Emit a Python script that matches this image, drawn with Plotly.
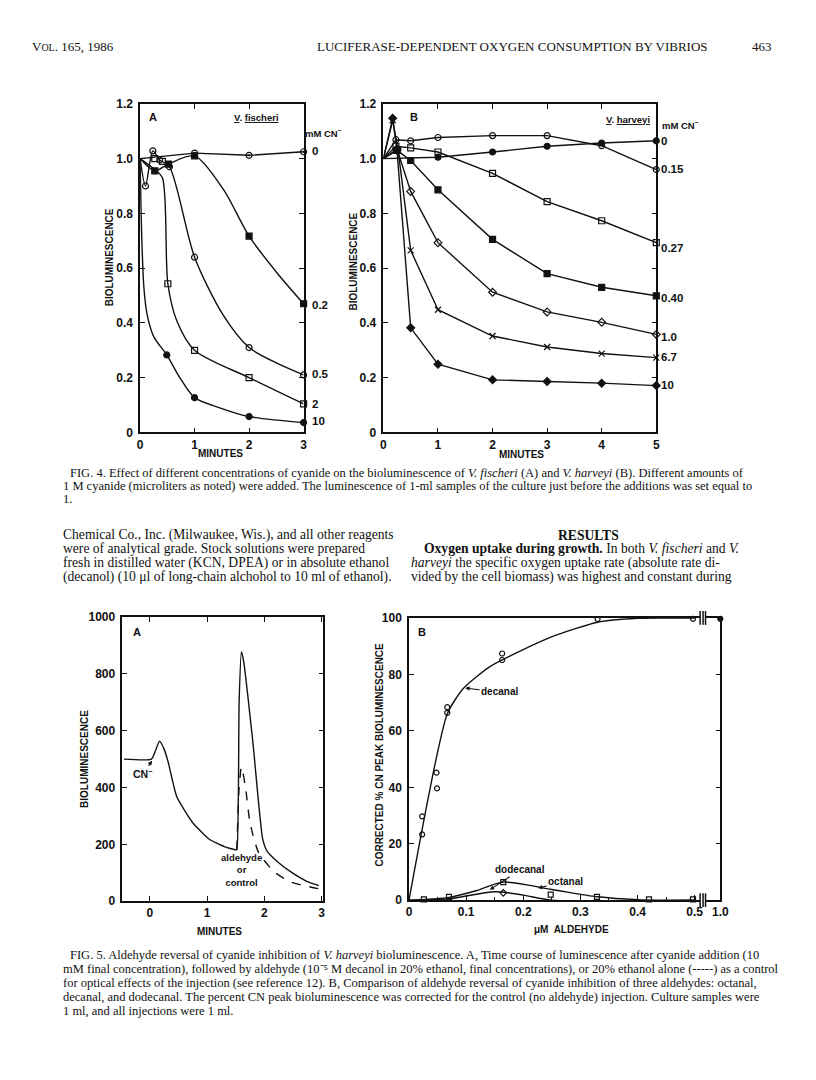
import plotly.graph_objects as go

# page is 816x1080; the HTML body keeps an 8px margin, so the figure is
# drawn 8px in from the top-left corner and sized so that nothing overflows
OFF = 8
W, H = 816 - OFF, 1080 - 2 * OFF
def px(x): return (x - OFF) / W
def py(y): return 1 - (y - OFF) / H

# ------------------------------------------------------------------ DATA
# FIG. 4A  V. fischeri  (plotted points)
fa_labels = ["0", "0.2", "0.5", "2", "10"]
fa0_x = [0, 1, 2, 3];                          fa0_y = [1.0, 1.02, 1.012, 1.025]
fa02_x = [0, 0.27, 0.52, 1, 2, 3];             fa02_y = [1.0, 0.955, 0.98, 1.01, 0.717, 0.47]
fa05_x = [0, 0.1, 0.235, 0.36, 0.54, 1, 2, 3]; fa05_y = [1.0, 0.9, 1.028, 0.995, 0.97, 0.64, 0.31, 0.21]
fa2_x = [0, 0.27, 0.41, 0.51, 1, 2, 3];        fa2_y = [1.0, 1.0, 0.99, 0.543, 0.30, 0.20, 0.104]
fa10_x = [0, 0.49, 1, 2, 3];                   fa10_y = [1.0, 0.283, 0.127, 0.058, 0.036]
# FIG. 4A drawn curves
ca02_x = [0, 0.27, 0.52, 1, 1.52, 2, 2.54, 3];  ca02_y = [1.0, 0.955, 0.98, 1.01, 0.89, 0.717, 0.576, 0.47]
ca05_x = [0, 0.1, 0.235, 0.36, 0.54, 1, 1.52, 2, 2.54, 3]
ca05_y = [1.0, 0.9, 1.028, 0.995, 0.97, 0.64, 0.43, 0.31, 0.25, 0.21]
ca2_x = [0, 0.27, 0.41, 0.51, 0.67, 1, 2, 3];   ca2_y = [1.0, 0.96, 0.93, 0.543, 0.41, 0.30, 0.20, 0.104]
ca10_x = [0, 0.03, 0.07, 0.13, 0.25, 0.49, 0.73, 1, 1.46, 2, 3]
ca10_y = [1.0, 0.72, 0.53, 0.43, 0.35, 0.283, 0.2, 0.127, 0.09, 0.058, 0.036]

# FIG. 4B  V. harveyi
fb_labels = ["0", "0.15", "0.27", "0.40", "1.0", "6.7", "10"]
fb0_x = [0, 1, 2, 3, 4, 5];                      fb0_y = [1.0, 1.005, 1.024, 1.045, 1.057, 1.065]
fb015_x = [0, 0.23, 0.5, 1, 2, 3, 4, 5];         fb015_y = [1.0, 1.069, 1.065, 1.077, 1.084, 1.084, 1.047, 0.96]
fb027_x = [0, 0.23, 0.5, 1, 2, 3, 4, 5];         fb027_y = [1.0, 1.045, 1.039, 1.024, 0.946, 0.843, 0.773, 0.693]
fb040_x = [0, 0.25, 0.5, 1, 2, 3, 4, 5];         fb040_y = [1.0, 1.03, 0.993, 0.886, 0.705, 0.58, 0.53, 0.499]
fb10_x = [0, 0.25, 0.5, 1, 2, 3, 4, 5];          fb10_y = [1.0, 1.035, 0.88, 0.693, 0.512, 0.44, 0.402, 0.358]
fb67_x = [0, 0.17, 0.27, 0.5, 1, 2, 3, 4, 5];    fb67_y = [1.0, 1.14, 1.03, 0.665, 0.448, 0.352, 0.312, 0.288, 0.273]
fb100_x = [0, 0.17, 0.25, 0.5, 1, 2, 3, 4, 5];   fb100_y = [1.0, 1.147, 1.03, 0.382, 0.249, 0.192, 0.186, 0.18, 0.171]

# FIG. 5A  time course
s_solid_x = [-0.45, 0.03, 0.1, 0.17, 0.25, 0.32, 0.47, 0.75, 1.04, 1.3, 1.5, 1.52, 1.56, 1.6, 1.64, 1.8, 1.97, 2.05, 2.24, 2.47, 2.75, 2.95]
s_solid_y = [500, 500, 530, 563, 535, 490, 368, 276, 218, 192, 181, 182, 700, 878, 843, 560, 220, 175, 137, 102, 69, 55]
s_dash_x = [1.52, 1.56, 1.6, 1.67, 1.75, 1.9, 2.18, 2.47, 2.95]
s_dash_y = [181, 400, 472, 403, 276, 171, 102, 67, 44]

# FIG. 5B  aldehyde reversal
dec_pts_x = [0.023, 0.023, 0.048, 0.049, 0.067, 0.067, 0.163, 0.163, 0.33, 0.497]
dec_pts_y = [29.7, 23.3, 45.2, 39.6, 68.4, 66.4, 87.4, 85.1, 99.6, 99.7]
dec_cur_x = [0, 0.067, 0.095, 0.141, 0.198, 0.256, 0.33, 0.4, 0.45, 0.5]
dec_cur_y = [0, 66, 75, 82.7, 88.6, 93.8, 98.5, 99.9, 100, 100]
oct_pts_x = [0.026, 0.07, 0.165, 0.248, 0.329, 0.42, 0.497]
oct_pts_y = [0.3, 1.2, 6.4, 2.0, 1.2, 0.3, 0.3]
oct_cur_x = [0, 0.07, 0.12, 0.165, 0.25, 0.33, 0.4, 0.5]
oct_cur_y = [0, 1.0, 3.5, 6.4, 3.8, 1.2, 0.2, 0]
dod_pts_x = [0.165];  dod_pts_y = [2.6]
dod_cur_x = [0, 0.07, 0.15, 0.2, 0.25, 0.5]
dod_cur_y = [0, 0.5, 3.0, 1.8, 0, 0]
brk_x = [1.0]; brk_y = [99.7]

yt4 = [0, 0.2, 0.4, 0.6, 0.8, 1.0, 1.2]
yt4_text = ["0", "0.2", "0.4", "0.6", "0.8", "1.0", "1.2"]
xt5b = [0, 0.1, 0.2, 0.3, 0.4, 0.5]
xt5b_text = ["0", "0.1", "0.2", "0.3", "0.4", "0.5"]

# ------------------------------------------------------------------ FIGURE
fig = go.Figure()
BLK = "#111111"
SANS = "Liberation Sans"
SERIF = "Liberation Serif"

def curve(x, y, xa, ya, shape="spline", dash="solid", smooth=0.8):
    fig.add_trace(go.Scatter(x=x, y=y, mode="lines", xaxis=xa, yaxis=ya,
                             line=dict(color=BLK, width=1.4, shape=shape, dash=dash,
                                       smoothing=smooth if shape == "spline" else None),
                             showlegend=False, hoverinfo="skip", cliponaxis=False))

def marks(x, y, xa, ya, sym, size=6):
    fig.add_trace(go.Scatter(x=x, y=y, mode="markers", xaxis=xa, yaxis=ya,
                             marker=dict(symbol=sym, size=size, color=BLK,
                                         line=dict(color=BLK, width=1.2)),
                             showlegend=False, hoverinfo="skip", cliponaxis=False))

# 4A
curve(fa0_x, fa0_y, "x", "y", shape="linear")
curve(ca02_x, ca02_y, "x", "y")
curve(ca05_x, ca05_y, "x", "y")
curve(ca2_x, ca2_y, "x", "y")
curve(ca10_x, ca10_y, "x", "y")
marks(fa0_x[1:], fa0_y[1:], "x", "y", "circle-open-dot")
marks(fa02_x[1:], fa02_y[1:], "x", "y", "square")
marks(fa05_x[1:], fa05_y[1:], "x", "y", "circle-open")
marks(fa2_x[1:], fa2_y[1:], "x", "y", "square-open")
marks(fa10_x[1:], fa10_y[1:], "x", "y", "circle")

# 4B
for xs, ys, sym in [(fb0_x, fb0_y, "circle"), (fb015_x, fb015_y, "circle-open"),
                    (fb027_x, fb027_y, "square-open"), (fb040_x, fb040_y, "square"),
                    (fb10_x, fb10_y, "diamond-open"), (fb67_x, fb67_y, "x-thin-open"),
                    (fb100_x, fb100_y, "diamond")]:
    curve(xs, ys, "x2", "y2", shape="linear")
    marks(xs[1:], ys[1:], "x2", "y2", sym)

# 5A
curve(s_solid_x, s_solid_y, "x3", "y3", smooth=0.5)
curve(s_dash_x, s_dash_y, "x3", "y3", dash="dash", smooth=0.6)

# 5B
curve(dec_cur_x, dec_cur_y, "x4", "y4", smooth=0.6)
curve(oct_cur_x, oct_cur_y, "x4", "y4", smooth=0.8)
curve(dod_cur_x, dod_cur_y, "x4", "y4", smooth=0.8)
marks(dec_pts_x, dec_pts_y, "x4", "y4", "circle-open", 5)
marks(oct_pts_x, oct_pts_y, "x4", "y4", "square-open", 5)
marks(dod_pts_x, dod_pts_y, "x4", "y4", "diamond-open", 5)
marks(brk_x, brk_y, "x5", "y5", "circle", 5)

tickfont = dict(family=SANS, size=12, color=BLK, weight="bold")
def ax(domain, rng, **kw):
    d = dict(domain=domain, range=rng, showline=True, linecolor=BLK, linewidth=1.5,
             ticks="inside", ticklen=5, tickcolor=BLK, tickwidth=1.3, mirror="ticks",
             showgrid=False, zeroline=False, tickfont=tickfont, fixedrange=True)
    d.update(kw)
    return d

fig.update_layout(
    width=W, height=H, margin=dict(l=0, r=0, t=0, b=0),
    paper_bgcolor="white", plot_bgcolor="white", showlegend=False,
    xaxis=ax([px(139), px(305)], [0, 3], tickvals=[0, 1, 2, 3], anchor="y"),
    yaxis=ax([py(431), py(98)], [0, 1.2], tickvals=yt4, ticktext=yt4_text, anchor="x",
             ticklabelstandoff=3),
    xaxis2=ax([px(386), px(663)], [0, 5], tickvals=[0, 1, 2, 3, 4, 5], anchor="y2"),
    yaxis2=ax([py(431), py(98)], [0, 1.2], tickvals=yt4, ticktext=yt4_text, anchor="x2",
              ticklabelstandoff=3),
    xaxis3=ax([px(121), px(325)], [-0.48, 3.03], tickvals=[0, 1, 2, 3], anchor="y3"),
    yaxis3=ax([py(906), py(618)], [0, 1000], tickvals=[0, 200, 400, 600, 800, 1000], anchor="x3",
              ticklabelstandoff=3),
    xaxis4=ax([px(412), px(707)], [0, 0.5086], tickvals=xt5b, ticktext=xt5b_text, anchor="y4",
              mirror=True, minor=dict(dtick=0.05, ticks="inside", ticklen=3, tickcolor=BLK)),
    yaxis4=ax([py(905), py(619)], [0, 100], tickvals=[0, 20, 40, 60, 80, 100], anchor="x4",
              mirror=False, ticklabelstandoff=3),
    xaxis5=ax([px(713), px(728)], [0.97, 1.0], tickvals=[1.0], ticktext=["1.0"], anchor="y5",
              mirror=True, ticks=""),
    yaxis5=ax([py(905), py(619)], [0, 100], tickvals=[20, 40, 60, 80], anchor="x5",
              side="right", showticklabels=False, mirror=False),
)

# break marks in 5B
for xb in (707.5, 710.5, 713):
    for yb in (905, 619):
        fig.add_shape(type="line", xref="paper", yref="paper", x0=px(xb), x1=px(xb),
                      y0=py(yb - 7), y1=py(yb + 7), line=dict(color=BLK, width=1.5))

ann = []
def T(x, y, text, size=12, family=SANS, xanchor="center", angle=0, color=BLK, **kw):
    ann.append(dict(x=px(x), y=py(y), xref="paper", yref="paper", text=text, showarrow=False,
                    xanchor=xanchor, yanchor="middle", textangle=angle,
                    font=dict(family=family, size=size, color=color), **kw))

def D(x, y, xa, ya, text, size=12, xanchor="left", xshift=0, **kw):
    ann.append(dict(x=x, y=y, xref=xa, yref=ya, text=text, showarrow=False, xanchor=xanchor,
                    yanchor="middle", xshift=xshift,
                    font=dict(family=SANS, size=size, color=BLK, weight="bold"), **kw))

def A(x, y, ax_, ay_, xa, ya, text, size=10):
    # label placed at (ax_, ay_) with an arrow to the point (x, y)
    ann.append(dict(x=x, y=y, ax=ax_, ay=ay_, xref=xa, yref=ya, axref=xa, ayref=ya, text=text,
                    showarrow=True, arrowhead=2, arrowsize=0.8, arrowwidth=1.1, arrowcolor=BLK,
                    font=dict(family=SANS, size=size, color=BLK, weight="bold"), standoff=1))

# page header
hs = 13
T(27, 40, "V<span style='font-size:10px'>OL</span>. 165, 1986", size=hs, family=SERIF, xanchor="left")
T(517, 40, "LUCIFERASE-DEPENDENT OXYGEN CONSUMPTION BY VIBRIOS", size=hs, family=SERIF)
T(770, 40, "463", size=hs, family=SERIF)

# FIG 4 panel texts
T(152, 111, "<b>A</b>", size=11)
T(257, 112, "<b><u>V</u>. <u>fischeri</u></b>", size=9.5)
T(325, 128, "<b>mM CN<sup>−</sup></b>", size=9.5)
T(108, 254, "<b>BIOLUMINESCENCE</b>", size=10, angle=-90)
T(221, 452, "<b>MINUTES</b>", size=10)
for lab, yv in zip(fa_labels, [1.027, 0.465, 0.213, 0.105, 0.04]):
    D(3, yv, "x", "y", lab, size=11.5, xshift=6)

T(417, 111, "<b>B</b>", size=11)
T(634, 114, "<b><u>V</u>. <u>harveyi</u></b>", size=9.5)
T(688, 119, "<b>mM CN<sup>−</sup></b>", size=9.5)
T(356, 258, "<b>BIOLUMINESCENCE</b>", size=10, angle=-90)
T(526, 453, "<b>MINUTES</b>", size=10)
for lab, yv in zip(fb_labels, [1.066, 0.961, 0.672, 0.49, 0.35, 0.275, 0.173]):
    D(5, yv, "x2", "y2", lab, size=11.5, xshift=3)

# FIG 4 caption
cap = 12.5
T(66, 472, "FIG. 4. Effect of different concentrations of cyanide on the bioluminescence of <i>V. fischeri</i> (A) and <i>V. harveyi</i> (B). Different amounts of",
  size=cap, family=SERIF, xanchor="left")
T(59, 485, "1 M cyanide (microliters as noted) were added. The luminescence of 1-ml samples of the culture just before the additions was set equal to",
  size=cap, family=SERIF, xanchor="left")
T(59, 498, "1.", size=cap, family=SERIF, xanchor="left")

# body text
bt = 13.6
T(59, 535, "Chemical Co., Inc. (Milwaukee, Wis.), and all other reagents", size=bt, family=SERIF, xanchor="left")
T(59, 549, "were of analytical grade. Stock solutions were prepared", size=bt, family=SERIF, xanchor="left")
T(59, 563, "fresh in distilled water (KCN, DPEA) or in absolute ethanol", size=bt, family=SERIF, xanchor="left")
T(59, 577, "(decanol) (10 μl of long-chain alchohol to 10 ml of ethanol).", size=bt, family=SERIF, xanchor="left")
T(594, 535, "<b>RESULTS</b>", size=bt, family=SERIF)
T(425, 549, "<b>Oxygen uptake during growth.</b> In both <i>V. fischeri</i> and <i>V.</i>", size=bt, family=SERIF, xanchor="left")
T(412, 563, "<i>harveyi</i> the specific oxygen uptake rate (absolute rate di-", size=bt, family=SERIF, xanchor="left")
T(412, 577, "vided by the cell biomass) was highest and constant during", size=bt, family=SERIF, xanchor="left")

# FIG 5 panel texts
T(136, 633, "<b>A</b>", size=11)
T(82, 762, "<b>BIOLUMINESCENCE</b>", size=10, angle=-90)
T(220, 937, "<b>MINUTES</b>", size=10)
A(0.05, 497, -0.12, 448, "x3", "y3", "CN<sup>−</sup>", size=10.5)
A(1.51, 172, 1.60, 108, "x3", "y3", "aldehyde<br>or<br>control", size=9.5)

T(425, 633, "<b>B</b>", size=11)
T(382, 757, "<b>CORRECTED % CN PEAK BIOLUMINESCENCE</b>", size=10, angle=-90)
T(577, 935, "<b>μM  ALDEHYDE</b>", size=10)
A(0.0966, 75.2, 0.1586, 73.8, "x4", "y4", "decanal")
A(0.14, 3.5, 0.195, 10.8, "x4", "y4", "dodecanal")
A(0.224, 4.2, 0.274, 6.6, "x4", "y4", "octanal")

# FIG 5 caption
T(66, 961, "FIG. 5. Aldehyde reversal of cyanide inhibition of <i>V. harveyi</i> bioluminescence. A, Time course of luminescence after cyanide addition (10",
  size=cap, family=SERIF, xanchor="left")
T(59, 975, "mM final concentration), followed by aldehyde (10⁻⁵ M decanol in 20% ethanol, final concentrations), or 20% ethanol alone (-----) as a control",
  size=cap, family=SERIF, xanchor="left")
T(59, 989, "for optical effects of the injection (see reference 12). B, Comparison of aldehyde reversal of cyanide inhibition of three aldehydes: octanal,",
  size=cap, family=SERIF, xanchor="left")
T(59, 1003, "decanal, and dodecanal. The percent CN peak bioluminescence was corrected for the control (no aldehyde) injection. Culture samples were",
  size=cap, family=SERIF, xanchor="left")
T(59, 1017, "1 ml, and all injections were 1 ml.", size=cap, family=SERIF, xanchor="left")

fig.update_layout(annotations=ann)
fig.write_html("out.html")
